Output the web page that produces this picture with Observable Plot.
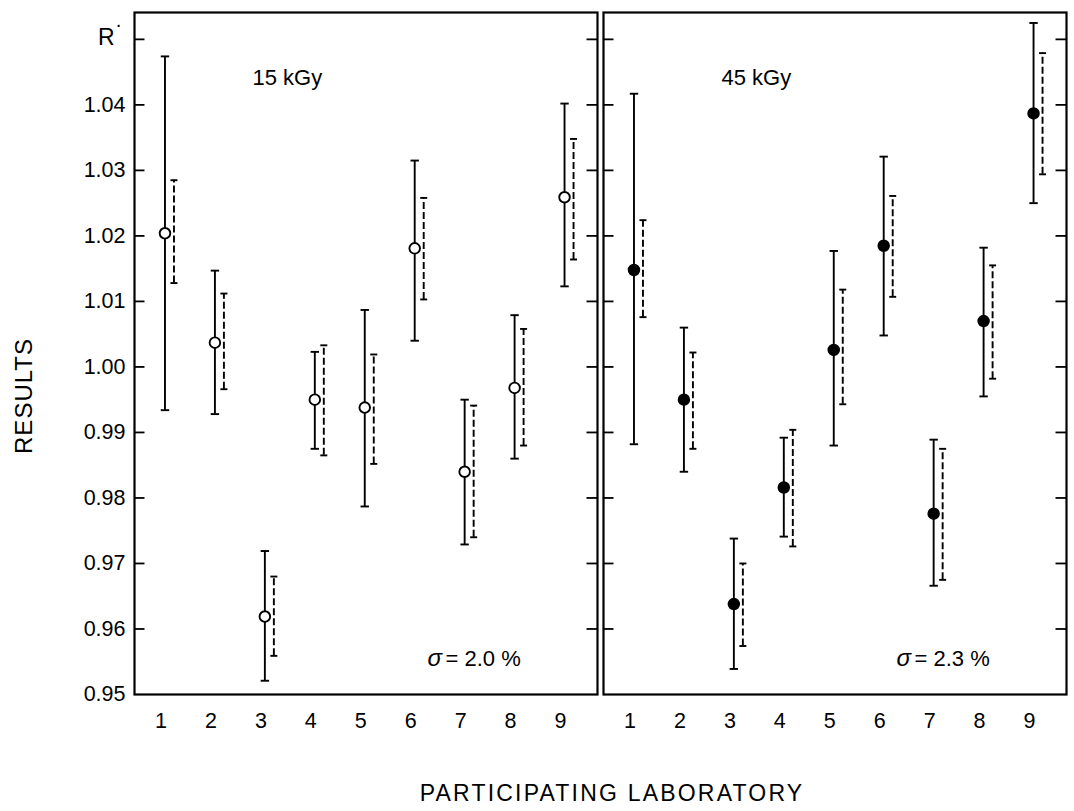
<!DOCTYPE html>
<html>
<head>
<meta charset="utf-8">
<script src="https://cdn.jsdelivr.net/npm/d3@7"></script>
<script src="https://cdn.jsdelivr.net/npm/@observablehq/plot@0.6"></script>
<style>
  html, body { margin: 0; padding: 0; background: white; }
  #wrap { position: relative; width: 1074px; height: 811px; font-family: "Liberation Sans", Arial, sans-serif; color: black; }
  #ylab { position: absolute; left: 24px; top: 396px; transform: translate(-50%, -50%) rotate(-90deg); font-size: 24px; white-space: nowrap; letter-spacing: 1px; }
  #xlab { position: absolute; left: 612px; top: 793px; transform: translate(-50%, -50%); font-size: 23px; white-space: nowrap; letter-spacing: 2.2px; }
</style>
</head>
<body>
<div id="wrap">
  <div id="chart"></div>
  <div id="ylab">RESULTS</div>
  <div id="xlab">PARTICIPATING LABORATORY</div>
</div>
<script>
// ---- data ----
const panels = ["15 kGy", "45 kGy"];
const labs = [1, 2, 3, 4, 5, 6, 7, 8, 9];
const sigmaLabels = ["= 2.0 %", "= 2.3 %"];

// 15 kGy (open circles)
const mean15 = [1.0204, 1.0037, 0.9619, 0.9950, 0.9938, 1.0181, 0.9840, 0.9968, 1.0259];
const lo15   = [0.9934, 0.9928, 0.9521, 0.9875, 0.9787, 1.0040, 0.9729, 0.9860, 1.0123];
const hi15   = [1.0474, 1.0147, 0.9719, 1.0023, 1.0087, 1.0315, 0.9950, 1.0079, 1.0402];
const dlo15  = [1.0128, 0.9966, 0.9559, 0.9865, 0.9852, 1.0103, 0.9740, 0.9880, 1.0164];
const dhi15  = [1.0285, 1.0112, 0.9680, 1.0033, 1.0019, 1.0258, 0.9941, 1.0058, 1.0348];

// 45 kGy (filled circles)
const mean45 = [1.0148, 0.9950, 0.9638, 0.9816, 1.0026, 1.0185, 0.9776, 1.0070, 1.0387];
const lo45   = [0.9882, 0.9840, 0.9539, 0.9741, 0.9880, 1.0048, 0.9666, 0.9955, 1.0250];
const hi45   = [1.0417, 1.0060, 0.9738, 0.9892, 1.0177, 1.0321, 0.9889, 1.0182, 1.0525];
const dlo45  = [1.0076, 0.9875, 0.9574, 0.9726, 0.9943, 1.0107, 0.9675, 0.9982, 1.0294];
const dhi45  = [1.0224, 1.0022, 0.9700, 0.9904, 1.0118, 1.0261, 0.9875, 1.0155, 1.0479];

const yTickValues = [0.95, 0.96, 0.97, 0.98, 0.99, 1.00, 1.01, 1.02, 1.03, 1.04];
const innerTickValues = [0.96, 0.97, 0.98, 0.99, 1.00, 1.01, 1.02, 1.03, 1.04, 1.05];
const rTick = [1.05];

// ---- table ----
const rows = [];
labs.forEach((lab, i) => {
  rows.push({panel: panels[0], lab, mean: mean15[i], lo: lo15[i], hi: hi15[i], dlo: dlo15[i], dhi: dhi15[i], fill: "white"});
  rows.push({panel: panels[1], lab, mean: mean45[i], lo: lo45[i], hi: hi45[i], dlo: dlo45[i], dhi: dhi45[i], fill: "black"});
});

const xDomain = [0.47, 9.74];
const tickLen = 0.21;

const hline = {
  draw(context, size) {
    const r = Math.sqrt(size / Math.PI);
    context.moveTo(-r, 0);
    context.lineTo(r, 0);
  }
};

const font = "Liberation Sans, Arial, sans-serif";
const sw = 1.9;

const chart = Plot.plot({
  width: 1074,
  height: 750,
  marginLeft: 133.5,
  marginRight: 8,
  marginTop: 12,
  marginBottom: 56,
  style: {fontFamily: font, fontSize: "21px", color: "black", background: "white"},
  fx: {domain: panels, paddingInner: 0.012, paddingOuter: 0, axis: null},
  x: {domain: xDomain, axis: null},
  y: {domain: [0.95, 1.0541], axis: null},
  marks: [
    Plot.frame({stroke: "black", strokeWidth: 2.2}),
    // inward ticks on both sides of each panel
    Plot.ruleY(innerTickValues, {y: d => d, x1: () => xDomain[0], x2: () => xDomain[0] + tickLen, stroke: "black", strokeWidth: 1.8}),
    Plot.ruleY(innerTickValues, {y: d => d, x1: () => xDomain[1] - tickLen, x2: () => xDomain[1], stroke: "black", strokeWidth: 1.8}),
    // y tick labels (left panel only)
    Plot.text(yTickValues, {y: d => d, fx: () => panels[0], frameAnchor: "left", text: d => d.toFixed(2), textAnchor: "end", dx: -9, fontSize: 21.5}),
    Plot.text(rTick, {y: d => d, fx: () => panels[0], frameAnchor: "left", text: () => "R", textAnchor: "end", dx: -20, dy: -2, fontSize: 23}),
    Plot.text(rTick, {y: d => d, fx: () => panels[0], frameAnchor: "left", text: () => "\u00B7", textAnchor: "middle", dx: -16, dy: -15, fontSize: 20}),
    // x tick labels (both panels)
    Plot.text(labs, {x: d => d, frameAnchor: "bottom", text: d => String(d), lineAnchor: "top", dy: 18, fontSize: 21.5}),
    // dashed error bars
    Plot.ruleX(rows, {fx: "panel", x: "lab", y1: "dlo", y2: "dhi", dx: 13, stroke: "black", strokeWidth: sw, strokeDasharray: "7,3"}),
    Plot.dot(rows, {fx: "panel", x: "lab", y: "dlo", dx: 13, symbol: hline, r: 3.5, stroke: "black", strokeWidth: sw, fill: "none"}),
    Plot.dot(rows, {fx: "panel", x: "lab", y: "dhi", dx: 13, symbol: hline, r: 3.5, stroke: "black", strokeWidth: sw, fill: "none"}),
    // solid error bars
    Plot.ruleX(rows, {fx: "panel", x: "lab", y1: "lo", y2: "hi", dx: 4, stroke: "black", strokeWidth: sw}),
    Plot.dot(rows, {fx: "panel", x: "lab", y: "lo", dx: 4, symbol: hline, r: 4.2, stroke: "black", strokeWidth: sw, fill: "none"}),
    Plot.dot(rows, {fx: "panel", x: "lab", y: "hi", dx: 4, symbol: hline, r: 4.2, stroke: "black", strokeWidth: sw, fill: "none"}),
    // points
    Plot.dot(rows, {fx: "panel", x: "lab", y: "mean", dx: 4, r: 5.3, stroke: "black", strokeWidth: sw, fill: "fill"}),
    // panel labels
    Plot.text(panels, {fx: d => d, text: d => d, frameAnchor: "top-left", textAnchor: "start", lineAnchor: "middle", dx: 118, dy: 65, fontSize: 22}),
    Plot.text(panels, {fx: d => d, text: () => "\u03C3", frameAnchor: "bottom-left", textAnchor: "start", lineAnchor: "middle", dx: 293, dy: -36, fontSize: 24, fontStyle: "italic"}),
    Plot.text(panels, {fx: d => d, text: (d, i) => sigmaLabels[i], frameAnchor: "bottom-left", textAnchor: "start", lineAnchor: "middle", dx: 311, dy: -36, fontSize: 22})
  ]
});

document.getElementById("chart").appendChild(chart);
</script>
</body>
</html>
